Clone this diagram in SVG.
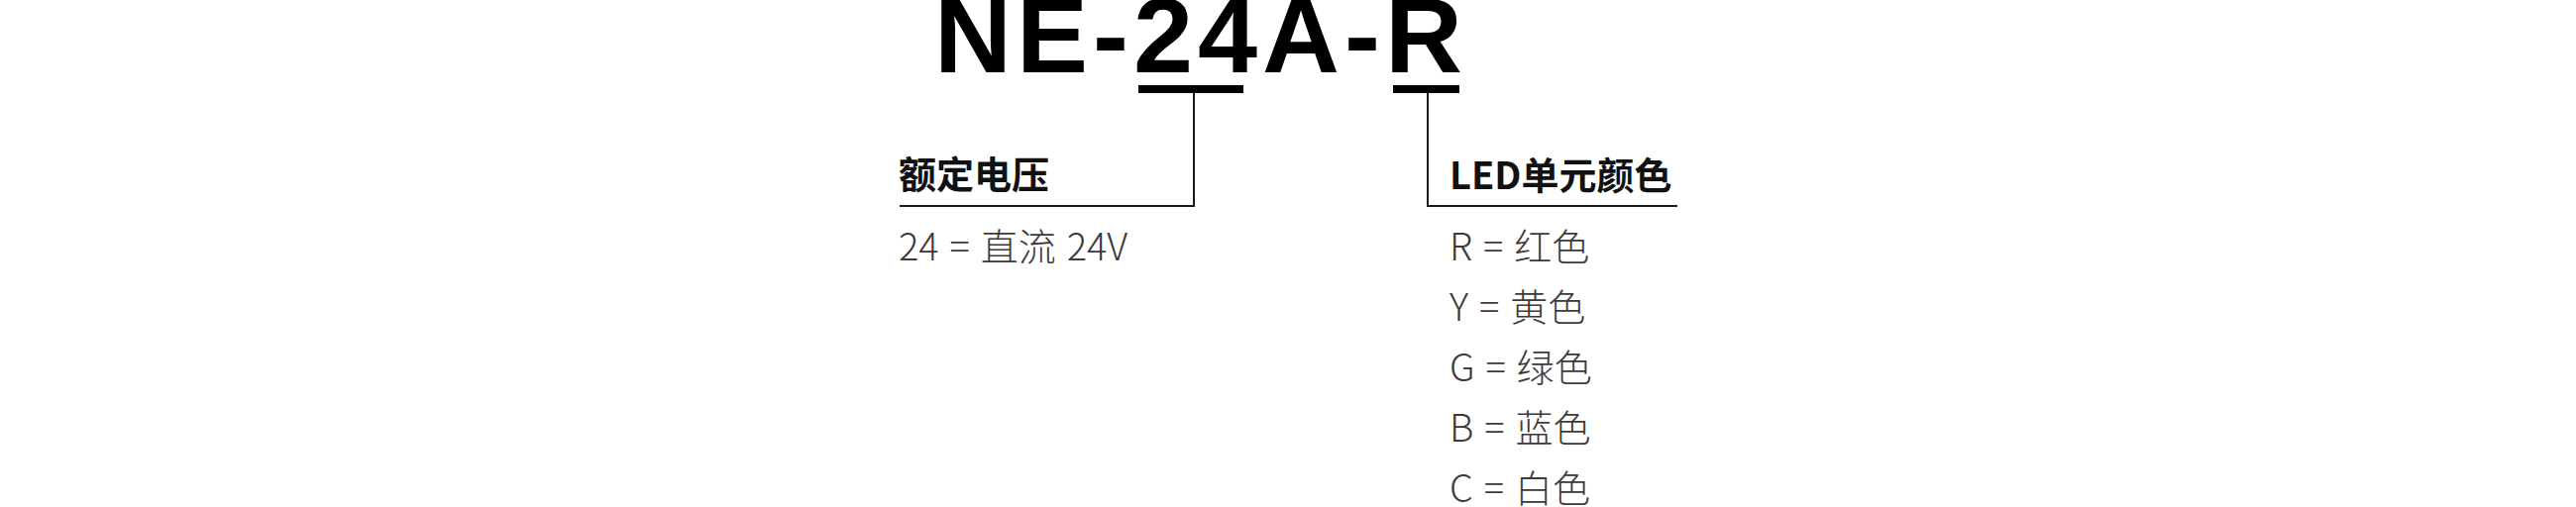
<svg xmlns="http://www.w3.org/2000/svg" width="2600" height="512" viewBox="0 0 2600 512">
<style>
.title{font-family:"Liberation Sans",Arial,sans-serif;font-weight:700;font-size:108px;letter-spacing:5px;fill:#000}
.head{font-family:"Noto Sans CJK SC","Noto Sans",sans-serif;font-weight:700;font-size:38px;fill:#111}
.val{font-family:"Noto Sans CJK SC","Noto Sans",sans-serif;font-weight:300;font-size:38px;word-spacing:2.5px;fill:#3e3a39}
.bar{fill:#000}
.conn{fill:none;stroke:#231815;stroke-width:2}
</style>
<rect width="2600" height="512" fill="#fff"/>
<g id="title">
<text class="title" x="943" y="73">NE-24A-R</text>
<rect class="bar" x="1149" y="86" width="106" height="8"/>
<rect class="bar" x="1406" y="86" width="67" height="8"/>
</g>
<g id="connectors">
<polyline class="conn" points="1205,94 1205,208 908,208"/>
<polyline class="conn" points="1441,94 1441,208 1693,208"/>
</g>
<g id="voltage">
<text class="head" x="907" y="190">额定电压</text>
<text class="val" x="907" y="263">24 = 直流 24V</text>
</g>
<g id="color">
<text class="head" x="1463" y="191">LED单元颜色</text>
<text class="val" x="1463" y="263">R = 红色</text>
<text class="val" x="1463" y="324">Y = 黄色</text>
<text class="val" x="1463" y="385">G = 绿色</text>
<text class="val" x="1463" y="446">B = 蓝色</text>
<text class="val" x="1463" y="507">C = 白色</text>
</g>
</svg>
